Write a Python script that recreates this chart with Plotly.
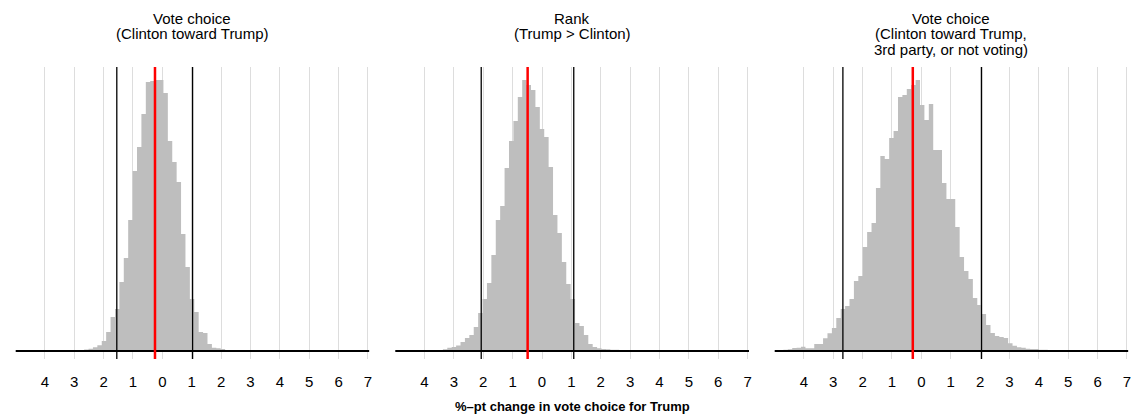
import plotly.graph_objects as go

# ---------------- data ----------------
BIN_W = 0.15

# Panel 1: Vote choice (Clinton toward Trump)
p1_first_edge = -2.8125
p1_heights = [1, 1.5, 2.3, 3.7, 5.7, 10, 19, 34, 42, 69, 93, 131, 180, 204, 237,
              269, 270, 271, 271, 258, 210, 189, 169, 117, 84, 52, 39, 19, 18, 7,
              3.3, 2.7, 2]

# Panel 2: Rank (Trump > Clinton)
p2_first_edge = -3.375
p2_heights = [1.7, 3.3, 4, 5.5, 9, 13, 16, 24, 38, 52, 68, 96, 131, 145, 183, 210,
              230, 254, 271, 266, 261, 244, 222, 214, 184, 136, 118, 89, 67, 52,
              28, 25, 16, 7, 4, 2.7, 2, 1.7, 1.3, 1.3, 1.0]

# Panel 3: Vote choice (Clinton toward Trump, 3rd party, or not voting)
p3_first_edge = -4.845
p3_heights = [1, 1.3, 1.7, 3, 3.3, 4.3, 2.7, 2.7, 7, 7, 12.7, 17.7, 23, 33, 42, 45,
              52, 70, 75, 104, 119, 128, 163, 195, 192, 213, 220, 254, 256, 262,
              266, 271, 246, 231, 247, 201, 201, 168, 152, 152, 124, 94, 80, 72,
              53, 46, 37, 26, 18, 15, 14, 13, 7.7, 5.3, 3.7, 3.3, 2.3, 2, 2, 1.3,
              1.3, 1]

ci_low = [-1.55, -2.07, -2.67]
ci_high = [1.03, 1.08, 2.05]
point_est = [-0.25, -0.49, -0.29]

titles = [["Vote choice", "(Clinton toward Trump)"],
          ["Rank", "(Trump > Clinton)"],
          ["Vote choice", "(Clinton toward Trump,", "3rd party, or not voting)"]]

tick_vals = [-4, -3, -2, -1, 0, 1, 2, 3, 4, 5, 6, 7]
tick_text = ["4", "3", "2", "1", "0", "1", "2", "3", "4", "5", "6", "7"]
x_title = "%\u2013pt change in vote choice for Trump"

# ---------------- layout constants ----------------
W, H = 1136, 415
FONT = "Liberation Sans, Arial, Helvetica, sans-serif"
X_RANGE = [-5, 7.05]
Y_RANGE = [-8, 284]
plot_top, plot_bot = 67, 359
domains_px = [(15.5, 370.4), (396.2, 751.1), (776.5, 1131.4)]

fig = go.Figure()

panels = [(p1_first_edge, p1_heights), (p2_first_edge, p2_heights),
          (p3_first_edge, p3_heights)]

for i, (edge0, hts) in enumerate(panels):
    n = i + 1
    xa = "x" if n == 1 else f"x{n}"
    ya = "y" if n == 1 else f"y{n}"
    # histogram drawn as a filled step outline (no seams between bins)
    edges = [edge0 + BIN_W * k for k in range(len(hts) + 1)]
    step_y = list(hts) + [hts[-1]]
    fig.add_trace(go.Scatter(x=edges, y=step_y, mode="lines",
                             line=dict(shape="hv", width=0, color="#bebebe"),
                             fill="tozeroy", fillcolor="#bebebe",
                             xaxis=xa, yaxis=ya, hoverinfo="skip", showlegend=False))

    # axes
    d0, d1 = domains_px[i]
    xkey = "xaxis" if n == 1 else f"xaxis{n}"
    ykey = "yaxis" if n == 1 else f"yaxis{n}"
    fig.update_layout(**{
        xkey: dict(domain=[d0 / W, d1 / W], range=X_RANGE, anchor=ya,
                   tickmode="array", tickvals=tick_vals, ticktext=tick_text,
                   showgrid=True, gridcolor="#dddddd", gridwidth=1,
                   zeroline=False, showline=False, ticks="",
                   tickfont=dict(family=FONT, size=15, color="#000000"),
                   ticklabelstandoff=12, fixedrange=True),
        ykey: dict(domain=[1 - plot_bot / H, 1 - plot_top / H], range=Y_RANGE,
                   anchor=xa, showgrid=False, zeroline=False, showline=False,
                   showticklabels=False, ticks="", fixedrange=True),
    })

    xr = xa
    yr_dom = f"{ya} domain"
    # baseline
    fig.add_shape(type="line", xref=xr, yref=ya, x0=X_RANGE[0], x1=X_RANGE[1],
                  y0=0, y1=0, line=dict(color="#000000", width=2))
    # interval lines
    for xv in (ci_low[i], ci_high[i]):
        fig.add_shape(type="line", xref=xr, yref=yr_dom, x0=xv, x1=xv, y0=0, y1=1,
                      line=dict(color="#000000", width=1.3))
    # point estimate
    fig.add_shape(type="line", xref=xr, yref=yr_dom, x0=point_est[i], x1=point_est[i],
                  y0=0, y1=1, line=dict(color="#ff0000", width=2.5))

    # titles
    cx = (d0 + d1) / 2 / W
    for j, line in enumerate(titles[i]):
        fig.add_annotation(text=line, x=cx, y=1 - (18 + 16 * j) / H,
                           xref="paper", yref="paper", showarrow=False,
                           xanchor="center", yanchor="middle",
                           font=dict(family=FONT, size=15, color="#000000"))

fig.add_annotation(text=f"<b>{x_title}</b>", x=((396.2 + 751.1) / 2) / W,
                   y=1 - 406 / H, xref="paper", yref="paper", showarrow=False,
                   xanchor="center", yanchor="middle",
                   font=dict(family=FONT, size=13, color="#000000"))

fig.update_layout(width=W, height=H, margin=dict(l=0, r=0, t=0, b=0),
                  paper_bgcolor="white", plot_bgcolor="white",
                  showlegend=False)

fig.write_html("out.html")
